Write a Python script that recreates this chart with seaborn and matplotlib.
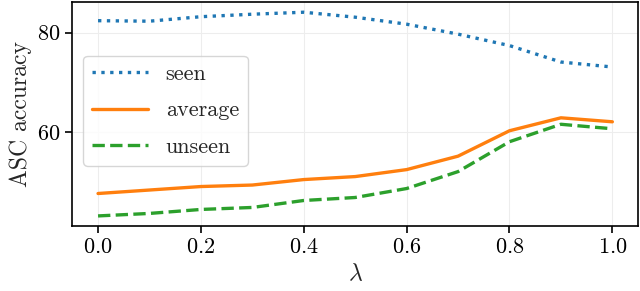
import numpy as np
import pandas as pd
import matplotlib
matplotlib.use('Agg')
import matplotlib.pyplot as plt
import seaborn as sns

lam = [0.0, 0.1, 0.2, 0.3, 0.4, 0.5, 0.6, 0.7, 0.8, 0.9, 1.0]
seen = [82.4, 82.3, 83.2, 83.7, 84.1, 83.1, 81.7, 79.7, 77.4, 74.1, 73.1]
average = [47.7, 48.4, 49.1, 49.4, 50.5, 51.1, 52.5, 55.2, 60.3, 62.9, 62.1]
unseen = [43.2, 43.7, 44.5, 44.9, 46.3, 46.9, 48.7, 52.1, 58.1, 61.6, 60.7]

sns.set_style('whitegrid', {'axes.edgecolor': 'black', 'xtick.bottom': True,
                            'ytick.left': True, 'grid.color': '0.93'})
plt.rcParams['font.family'] = ['cmr10', 'DejaVu Serif']
plt.rcParams['mathtext.fontset'] = 'cm'
plt.rcParams['axes.unicode_minus'] = False
plt.rcParams['axes.formatter.use_mathtext'] = True

fig, ax = plt.subplots(figsize=(6.4, 2.91), dpi=100)
fig.subplots_adjust(left=0.113, right=0.997, top=0.993, bottom=0.223)

sns.lineplot(x=lam, y=seen, ax=ax, color='#1f77b4', linestyle=':', linewidth=2.4, label='seen')
sns.lineplot(x=lam, y=average, ax=ax, color='#ff7f0e', linestyle='-', linewidth=2.4, label='average')
sns.lineplot(x=lam, y=unseen, ax=ax, color='#2ca02c', linestyle='--', linewidth=2.4, label='unseen')

ax.set_xticks([0.0, 0.2, 0.4, 0.6, 0.8, 1.0])
ax.set_yticks([60, 80])
ax.tick_params(labelsize=16, length=5, width=1.2, colors='black')
ax.set_xlabel(r'$\lambda$', fontsize=17)
ax.set_ylabel('ASC accuracy', fontsize=17)
for s in ax.spines.values():
    s.set_linewidth(1.2)

ax.legend(loc='center left', bbox_to_anchor=(0.0, 0.515), fontsize=16, frameon=True,
          handlelength=2.5, labelspacing=0.75, edgecolor='0.8', fancybox=True)

fig.savefig('out.png', dpi=100)
